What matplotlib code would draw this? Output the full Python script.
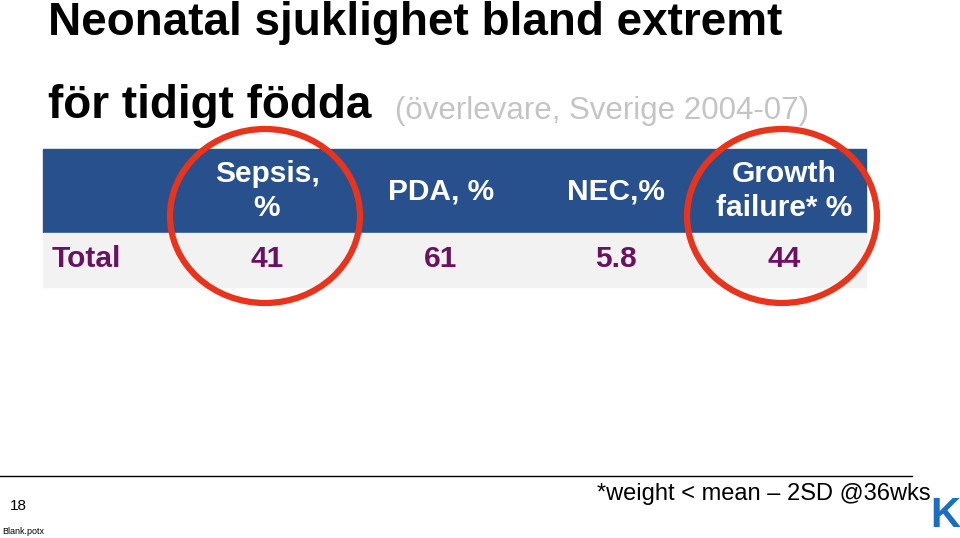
import matplotlib

matplotlib.use("Agg")
import matplotlib.pyplot as plt
from matplotlib.patches import Rectangle, Ellipse

TITLE_1 = "Neonatal sjuklighet bland extremt"
TITLE_2 = "för tidigt födda"
SUBTITLE = "(överlevare, Sverige 2004-07)"
HEADERS = ["Sepsis,\n%", "PDA, %", "NEC,%", "Growth\nfailure* %"]
ROW_LABEL = "Total"
VALUES = ["41", "61", "5.8", "44"]
COL_X = [267, 441, 616, 784]
CIRCLED = [0, 3]
FOOTNOTE = "*weight < mean – 2SD @36wks"

BLUE = "#27508c"
PURPLE = "#6a1260"
RED = "#e8341c"
FONT = "Liberation Sans"

fig = plt.figure(figsize=(9.6, 5.38), dpi=100)
ax = fig.add_axes([0, 0, 1, 1])
ax.set_xlim(0, 960)
ax.set_ylim(538, 0)
ax.axis("off")

ax.text(48, 23, TITLE_1, fontsize=33, fontweight="bold", va="center", family=FONT)
ax.text(48, 106, TITLE_2, fontsize=33, fontweight="bold", va="center", family=FONT)
ax.text(395, 111, SUBTITLE, fontsize=22.5, color="#c4c4c4", va="center", family=FONT)

ax.add_patch(Rectangle((43, 149), 823, 84, color=BLUE, zorder=1))
ax.add_patch(Rectangle((43, 233), 823, 54, color="#f2f2f2", zorder=1))
for x, h in zip(COL_X, HEADERS):
    ax.text(x, 191, h, color="white", fontsize=21.5, fontweight="bold", ha="center",
            va="center", linespacing=1.25, family=FONT, zorder=2)
ax.text(52, 259, ROW_LABEL, color=PURPLE, fontsize=21.5, fontweight="bold", va="center",
        family=FONT, zorder=2)
for x, v in zip(COL_X, VALUES):
    ax.text(x, 259, v, color=PURPLE, fontsize=21.5, fontweight="bold", ha="center",
            va="center", family=FONT, zorder=2)
for i in CIRCLED:
    ax.add_patch(Ellipse((COL_X[i] - 2, 216), 190, 174, fill=False, ec=RED, lw=4.5, zorder=3))

ax.plot([0, 912], [476, 476], color="black", lw=1)
ax.text(10, 506, "18", fontsize=11, va="center", family=FONT)
ax.text(2, 531, "Blank.potx", fontsize=6.5, va="center", family=FONT)
ax.text(597, 494, FOOTNOTE, fontsize=17, va="center", family=FONT)
ax.text(945, 516, "K", fontsize=30, fontweight="bold", color="#1c6fc0", ha="center",
        va="center", family=FONT)

fig.savefig("out.png")
